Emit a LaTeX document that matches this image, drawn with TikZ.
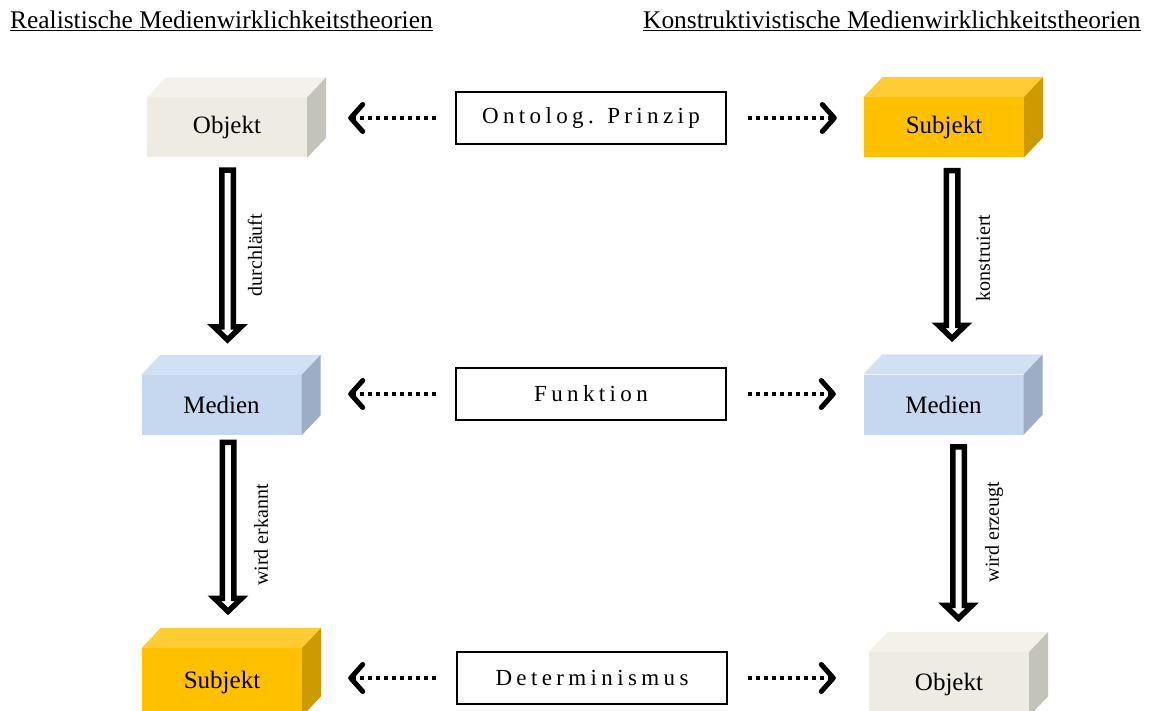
\documentclass[tikz,border=0pt]{standalone}
\usepackage{fontspec}
\setmainfont{Liberation Serif}
\newfontfamily\spacedfont[LetterSpace=19]{Liberation Serif}
\usetikzlibrary{arrows.meta,calc}
\definecolor{objF}{HTML}{EEECE2}
\definecolor{objT}{HTML}{F3F1EA}
\definecolor{objS}{HTML}{C4C3B9}
\definecolor{subF}{HTML}{FFC000}
\definecolor{subT}{HTML}{FFCC33}
\definecolor{subS}{HTML}{CD9B00}
\definecolor{medF}{HTML}{C6D8F0}
\definecolor{medT}{HTML}{D2E0F3}
\definecolor{medS}{HTML}{9DADC5}
\newcommand{\cuboid}[5][60pt]{%
  \node[cube, fill=#4F, minimum height=#1] (#2) at (#3) {#5};
  \fill[#4T] (#2.north west) -- ++(19,-20) -- ($(#2.north east)+(19,-20)$) -- (#2.north east) -- cycle;
  \fill[#4S] (#2.north east) -- ++(19,-20) -- ($(#2.south east)+(19,-20)$) -- (#2.south east) -- cycle;
}
\newcommand{\hollowarrow}[2]{%
  \path[hollow] let \p1=(#1), \p2=(#2) in
  (\x1-5.75pt,\y1) -- (\x1+5.75pt,\y1) -- (\x1+5.75pt,\y2+13pt) -- (\x1+13.5pt,\y2+13pt)
  -- (\x1,\y2) -- (\x1-13.5pt,\y2+13pt) -- (\x1-5.75pt,\y2+13pt) -- cycle;
}
\begin{document}
\begin{tikzpicture}[x=1pt,y=-1pt,
  cube/.style={rectangle, minimum width=160pt, inner sep=0pt,
    font=\fontsize{25}{28}\selectfont},
  lblbox/.style={draw, line width=1.2pt, minimum width=270pt, minimum height=52pt, inner sep=0pt,
    font=\spacedfont\fontsize{23}{26}\selectfont},
  dotarrow/.style={line width=4pt, dash pattern=on 4pt off 4pt,
    -{Straight Barb[length=12pt, width=27pt, line width=5pt, line cap=round, line join=round]}},
  hollow/.style={draw=black, fill=white, line width=5.5pt, line join=miter},
  vlabel/.style={rotate=90, font=\fontsize{20}{24}\selectfont, inner sep=0pt},
  header/.style={anchor=base west, inner sep=0pt, font=\fontsize{25.4}{30}\selectfont}]
\useasboundingbox (0,0) rectangle (1151,711);

\node[header] (hl) at (10,29) {\underline{Realistische Medienwirklichkeitstheorien}};
\node[header] (hr) at (643,29) {\underline{Konstruktivistische Medienwirklichkeitstheorien}};

\cuboid{objA}{227,127.5}{obj}{Objekt}
\cuboid{subA}{944,127}{sub}{Subjekt}
\cuboid{medA}{221.5,405}{med}{Medien}
\cuboid{medB}{943.5,404.5}{med}{Medien}
\cuboid[68pt]{subB}{222,682}{sub}{Subjekt}
\cuboid[64pt]{objB}{949,684}{obj}{Objekt}

\node[lblbox] (ont) at (591,118) {Ontolog. Prinzip};
\node[lblbox] (fun) at (591,394) {Funktion};
\node[lblbox] (det) at (592,678) {Determinismus};

\draw[dotarrow, shorten <=19pt, shorten >=41pt] (ont.west) -- (ont.west -| objA.east);
\draw[dotarrow, shorten <=21pt, shorten >=27pt] (ont.east) -- (ont.east -| subA.west);
\draw[dotarrow, shorten <=19pt, shorten >=46.5pt] (fun.west) -- (fun.west -| medA.east);
\draw[dotarrow, shorten <=21pt, shorten >=27.5pt] (fun.east) -- (fun.east -| medB.west);
\draw[dotarrow, shorten <=20pt, shorten >=46pt] (det.west) -- (det.west -| subB.east);
\draw[dotarrow, shorten <=20pt, shorten >=33pt] (det.east) -- (det.east -| objB.west);

\hollowarrow{$(objA.south)+(0.5,12.5)$}{$(medA.north)+(0,-35)$}
\hollowarrow{$(medA.south)+(6.5,7.25)$}{$(subB.north)+(0,-36.4)$}
\hollowarrow{$(subA.south)+(8,13.5)$}{$(medB.north)+(0,-36)$}
\hollowarrow{$(medB.south)+(15,12.25)$}{$(objB.north)+(0,-33.4)$}

\node[vlabel] (l1) at (255,255) {durchläuft};
\node[vlabel] (l2) at (261,535) {wird erkannt};
\node[vlabel] (l3) at (983,258) {konstruiert};
\node[vlabel] (l4) at (994,532) {wird erzeugt};
\end{tikzpicture}
\end{document}
